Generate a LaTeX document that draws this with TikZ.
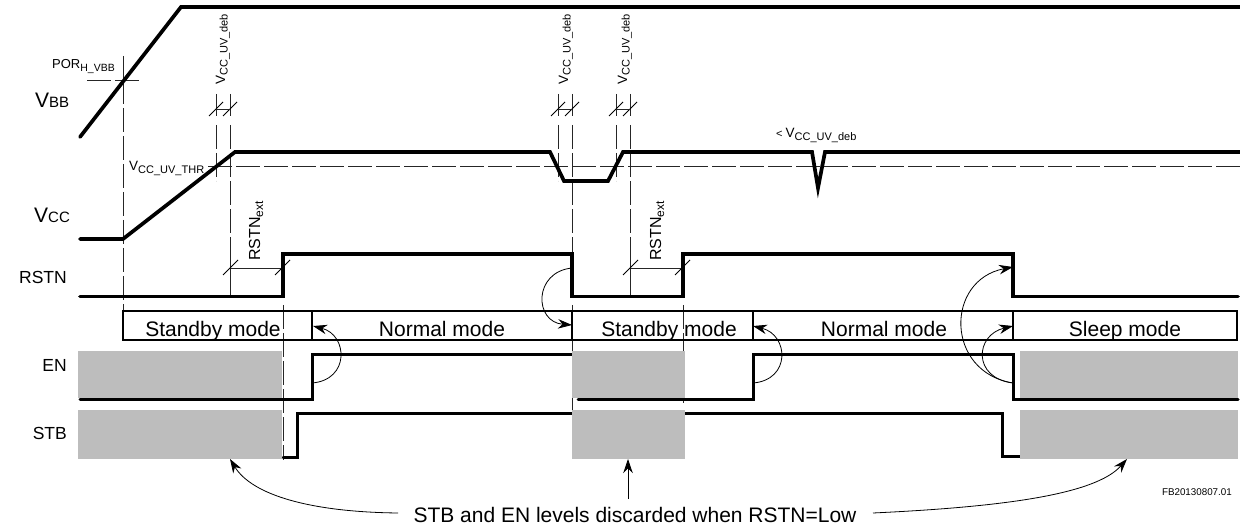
\documentclass[tikz,border=0pt]{standalone}
\usepackage{fontspec}
\setmainfont{Liberation Sans}
\usetikzlibrary{arrows.meta}
\newcommand{\fsz}[1]{\fontsize{#1}{#1}\selectfont}
\newcommand{\bigsig}[2]{\fsz{21}#1\fsz{15}#2}
\newcommand{\smsig}[2]{\fsz{13.5}#1\fsz{11}\raisebox{-2.5pt}{#2}}
\tikzset{
  wave/.style={line width=3.7pt,line join=miter,line cap=round},
  wavethin/.style={line width=3pt,line join=miter,line cap=round},
  modebox/.style={line width=2pt},
  guide/.style={line width=0.8pt,draw=black!85},
  dashguide/.style={line width=0.8pt,draw=black!85,dash pattern=on 24pt off 4pt},
  slash/.style={line width=0.8pt},
  curvearrow/.style={line width=0.8pt,-{Stealth[length=14pt,width=9.5pt]}},
  graybox/.style={fill=black!26,draw=none},
  lab/.style={inner sep=0pt,anchor=base},
  fsz/.code={\fsz{#1}},
  siglab/.style={inner sep=0pt,anchor=base east,fsz=17.5},
  modelab/.style={inner sep=0pt,anchor=base,fsz=21},
  deb/.style={inner sep=0pt,anchor=base west,rotate=90},
}
\begin{document}
\begin{tikzpicture}[x=1pt,y=-1pt]
\useasboundingbox (0,0) rectangle (1240,529);
% guides
\draw[dashguide] (87,80) -- (140,80);
\draw[guide] (123,56) -- (123,80);
\draw[dashguide] (123,80) -- (123,311);
\draw[dashguide] (208,166) -- (1240,166);
\foreach \x/\e in {216/181,230/260,558/181,572/253,616/181,630/260}{
  \draw[guide] (\x,94) -- (\x,116);
  \draw[dashguide] (\x,125) -- (\x,\e);
  \draw[slash] (\x-7,116) -- (\x+7,102);
}
\draw[guide] (216,109) -- (230,109);
\draw[guide] (558,109) -- (572,109);
\draw[guide] (616,109) -- (630,109);
\draw[guide] (230,260) -- (230,296);
\draw[guide] (630,260) -- (630,296);
\draw[guide] (230,268) -- (283,268);
\draw[guide] (630,268) -- (683,268);
\draw[slash] (223,275) -- (238,260);
\draw[slash] (275,275) -- (290,260);
\draw[slash] (623,275) -- (638,260);
\draw[slash] (675,275) -- (690,260);
\draw[dashguide] (283,305) -- (283,460);
\draw[dashguide] (572,305) -- (572,458);
\draw[dashguide] (683,305) -- (683,403);
% waves
\draw[wave] (80,137) -- (181,7) -- (1240,7);
\draw[wave] (80,239) -- (123,239) -- (235,152) -- (550,152) -- (564,181) -- (608,181) -- (623,152) -- (812,152) -- (818,188) -- (825,152) -- (1240,152);
\draw[wave] (80,296.5) -- (283,296.5) -- (283,254) -- (572,254) -- (572,296.5) -- (683,296.5) -- (683,254) -- (1013,254) -- (1013,296.5) -- (1238,296.5);
\draw[wavethin] (80,399) -- (312,399) -- (312,355) -- (572,355);
\draw[wavethin] (578,399) -- (753,399) -- (753,355) -- (1013,355) -- (1013,399) -- (1238,399);
\draw[wavethin] (283,457) -- (297,457) -- (297,413) -- (572,413);
\draw[wavethin] (685,413) -- (1002,413) -- (1002,456) -- (1020,456);
% gray regions
\fill[graybox] (78,351) rectangle (282,398);
\fill[graybox] (78,410) rectangle (282,458.5);
\fill[graybox] (572,351) rectangle (685,398);
\fill[graybox] (572,410) rectangle (685,458.5);
\fill[graybox] (1020,351) rectangle (1238,398);
\fill[graybox] (1020,410) rectangle (1238,458.5);
% mode box
\draw[modebox] (123,311) rectangle (1237,340);
\foreach \x in {312,572,753,1013} \draw[modebox] (\x,311) -- (\x,340);
\node[modelab] (m1) at (213,337) {Standby mode};
\node[modelab] (m2) at (442,337) {Normal mode};
\node[modelab] (m3) at (669,337) {Standby mode};
\node[modelab] (m4) at (884,337) {Normal mode};
\node[modelab] (m5) at (1125,337) {Sleep mode};
% signal labels
\node[lab,anchor=base west] (vbb) at (35,108) {\bigsig{V}{BB}};
\node[lab,anchor=base west] (vcc) at (34,223) {\bigsig{V}{CC}};
\node[siglab] (rstn) at (67,284) {RSTN};
\node[siglab] (en) at (67,372) {EN};
\node[siglab] (stb) at (67,439) {STB};
\node[lab,anchor=base west] (por) at (52,69) {\fsz{13}POR\fsz{10.5}\raisebox{-2.5pt}{H\_VBB}};
\node[lab,anchor=base west] (thr) at (129,171) {\smsig{V}{CC\_UV\_THR}};
\node[deb] (d1) at (225,85) {\smsig{V}{CC\_UV\_deb}};
\node[deb] (d2) at (568,85) {\smsig{V}{CC\_UV\_deb}};
\node[deb] (d3) at (627,85) {\smsig{V}{CC\_UV\_deb}};
\node[deb] (r1) at (260,261) {\fsz{16}RSTN\fsz{12}\raisebox{-3pt}{ext}};
\node[deb] (r2) at (661,261) {\fsz{16}RSTN\fsz{12}\raisebox{-3pt}{ext}};
\node[lab,anchor=base west] (lt) at (776,138) {\fsz{11}<~\smsig{V}{CC\_UV\_deb}};
\node[lab,anchor=base east] (fb) at (1232,495) {\fsz{9.8}FB20130807.01};
\node[lab] (note) at (635,522) {\fsz{21}STB and EN levels discarded when RSTN=Low};
% arrows
\coordinate (a1s) at (312,383); \coordinate (a1e) at (313,326);
\coordinate (a2s) at (572,268); \coordinate (a2e) at (572,325);
\coordinate (a3s) at (753,383); \coordinate (a3e) at (753,326);
\coordinate (a4s) at (1013,383); \coordinate (a4e) at (1013,267);
\coordinate (a5e) at (1013,326);
\coordinate (t1) at (230,459); \coordinate (t2) at (628,459); \coordinate (t3) at (1127,459);
\coordinate (n1) at (398,513); \coordinate (n2) at (628,499); \coordinate (n3) at (873,513);
\draw[curvearrow] (a1s) .. controls (350,380) and (348,335) .. (a1e);
\draw[curvearrow] (a2s) .. controls (533,272) and (534,322) .. (a2e);
\draw[curvearrow] (a3s) .. controls (791,380) and (789,335) .. (a3e);
\draw[curvearrow] (a4s) .. controls (945,372) and (945,280) .. (a4e);
\draw[curvearrow] (a4s) .. controls (972,378) and (975,335) .. (a5e);
\draw[curvearrow] (n1) .. controls (310,512) and (252,495) .. (t1);
\draw[curvearrow] (n2) -- (t2);
\draw[curvearrow] (n3) .. controls (1000,507) and (1095,495) .. (t3);
\end{tikzpicture}
\end{document}
